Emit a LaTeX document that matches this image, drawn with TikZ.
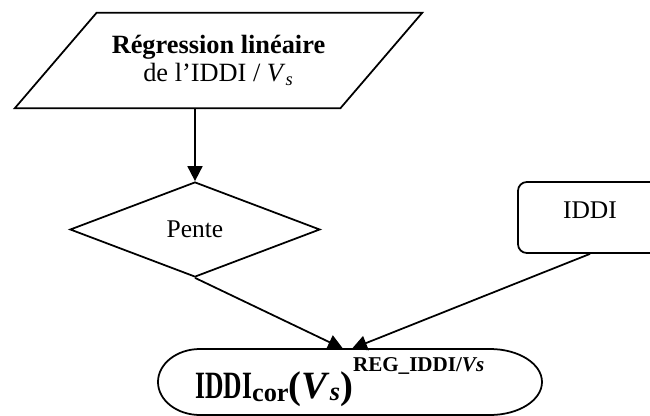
\documentclass[tikz,border=0pt]{standalone}
\usepackage{fontspec}
\setmainfont{Liberation Serif}
\usepackage{graphicx}
\usepackage{tikz}
\usetikzlibrary{shapes,arrows.meta,positioning,calc}
\definecolor{bordercolor}{RGB}{0,0,0}
\definecolor{arrowcolor}{RGB}{0,0,0}
\tikzset{
    module/.style={
        draw=bordercolor,
        line width=1pt,
        text centered,
        font=\fontsize{14.5}{16}\selectfont
    },
    outline/.style={draw=bordercolor, line width=1pt},
    iomodule/.style={rectangle, inner sep=0pt, minimum width=8.14cm, minimum height=1.9cm,
        align=center, font=\fontsize{15}{16}\selectfont},
    decisionmodule/.style={module, diamond, inner sep=0pt, minimum width=5cm, minimum height=1.9cm},
    datamodule/.style={module, rectangle, rounded corners=5pt, minimum width=2.88cm, minimum height=1.42cm,
        text depth=0.28cm},
    resultmodule/.style={rectangle, inner sep=0pt, minimum width=7.68cm, minimum height=1.32cm},
    arrow/.style={-{Triangle[length=0.3cm,width=0.3cm]}, line width=1pt, color=arrowcolor}
}

\begin{document}
\begin{tikzpicture}[x=0.02cm, y=-0.02cm]
    \useasboundingbox (0,0) rectangle (650,416);
    \clip (0,0) rectangle (650,416);

    % Input
    \node[iomodule] (reg) at (218.5,60.5) {\textbf{Régression linéaire}\\de l'IDDI / \textit{V}\textsubscript{\textit{s}}};
    \draw[outline] ([xshift=1.64cm]reg.north west) -- (reg.north east)
        -- ([xshift=-1.64cm]reg.south east) -- (reg.south west) -- cycle;

    % Slope
    \node[decisionmodule] (pente) at (195,229.5) {Pente};

    % Index
    \node[datamodule] (iddi) at (590,217.5) {IDDI};

    % Result
    \node[resultmodule] (res) at (350,382) {};
    \draw[outline] (200,349) -- (490,349) arc[start angle=-90, end angle=90, x radius=52, y radius=33]
        -- (200,415) arc[start angle=90, end angle=270, x radius=42, y radius=33] -- cycle;
    \node[anchor=base west, inner sep=0pt] (restext) at (195,398) {\bfseries
        \scalebox{0.66}[1]{\fontsize{22}{26}\selectfont IDDI}%
        \raisebox{-2pt}{\fontsize{15}{18}\selectfont cor}%
        {\fontsize{22}{26}\selectfont(\textit{V}\raisebox{-1.5pt}{\fontsize{15}{18}\selectfont\textit{s}})}%
        \raisebox{15pt}{\fontsize{12}{14}\selectfont REG\_IDDI/\textit{Vs}}};

    % Arrows
    \draw[arrow] (reg.south -| pente.north) -- (pente.north);
    \draw[arrow] (pente.south) -- ([xshift=-0.14cm]res.north);
    \draw[arrow] (iddi.south) -- ([xshift=0.04cm]res.north);
\end{tikzpicture}
\end{document}
